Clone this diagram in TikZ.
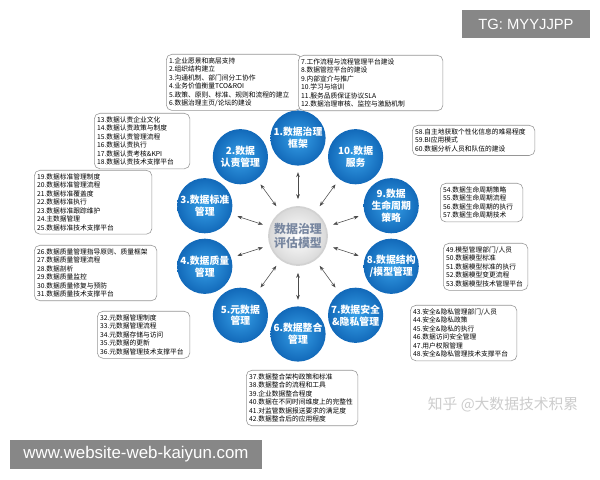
\documentclass[tikz,border=0pt]{standalone}
\usepackage{fontspec}
\setmainfont{Liberation Sans}
\newfontfamily\cjk{Noto Sans CJK SC}
\usetikzlibrary{arrows.meta, calc, positioning}
\definecolor{ballin}{RGB}{55,160,232}
\definecolor{ballout}{RGB}{18,105,185}
\definecolor{boxline}{RGB}{150,150,150}
\definecolor{hubtext}{RGB}{120,135,160}
\definecolor{markgrey}{RGB}{135,135,135}
\tikzset{
	>={Stealth[length=3.5pt,width=2.6pt]}, semithick,
	items/.style={draw=boxline, rounded corners=4pt, fill=white, anchor=north west,
		align=left, inner xsep=2pt, inner ysep=2.5pt, text=black,
		font=\cjk\fontsize{4.8}{6}\selectfont},
	ball/.style={circle, minimum size=1.38cm, inner sep=0pt, inner color=ballin,
		outer color=ballout, text=white, align=center,
		font=\cjk\bfseries\fontsize{7}{8.5}\selectfont}
}

\begin{document}
\begin{tikzpicture}[x=0.025cm, y=0.025cm]
	\tikzstyle{hub} = [circle, minimum size=1.45cm, inner sep=0pt, draw=gray!35, line width=1.2pt,
		inner color=white, outer color=gray!30, text=hubtext, align=center,
		font=\cjk\bfseries\fontsize{8.5}{10.5}\selectfont]
	\tikzstyle{link} = [<->, draw=black!70, thin, shorten <=5pt, shorten >=4.5pt]
	\tikzstyle{stamp} = [fill=markgrey, text=white, inner sep=0pt]
	\useasboundingbox (0,0) rectangle (600,480);

	\node [hub] (hub) at (298,244) {数据治理\\评估模型};
	\node [ball] (frame) at ($(hub)+(90:98)$) {1.数据治理\\框架};
	\node [ball] (duty) at ($(hub)+(126:98)$) {2.数据\\认责管理};
	\node [ball] (standard) at ($(hub)+(162:98)$) {3.数据标准\\管理};
	\node [ball] (quality) at ($(hub)+(198:98)$) {4.数据质量\\管理};
	\node [ball] (meta) at ($(hub)+(234:98)$) {5.元数据\\管理};
	\node [ball] (merge) at ($(hub)+(270:98)$) {6.数据整合\\管理};
	\node [ball] (safety) at ($(hub)+(306:98)$) {7.数据安全\\\&隐私管理};
	\node [ball] (model) at ($(hub)+(342:98)$) {8.数据结构\\/模型管理};
	\node [ball] (life) at ($(hub)+(18:98)$) {9.数据\\生命周期\\策略};
	\node [ball] (service) at ($(hub)+(54:98)$) {10.数据\\服务};

	\foreach \b in {frame, duty, standard, quality, meta, merge, safety, model, life, service}
		\draw [link] (hub) -- (\b);

	\node [items, text width=3.225cm] (vision) at (166,426) {1.企业愿景和高层支持\\2.组织结构建立\\3.沟通机制、部门间分工协作\\4.业务价值衡量TCO\&ROI\\5.政策、原则、标准、规则和流程的建立\\6.数据治理主页/论坛的建设};
	\node [items, text width=3.475cm] (flow) at (298,425) {7.工作流程与流程管理平台建设\\8.数据管控平台的建设\\9.内部宣介与推广\\10.学习与培训\\11.服务品质保证协议SLA\\12.数据治理审核、监控与激励机制};
	\node [items, text width=2.25cm] (dutylist) at (94,367) {13.数据认责企业文化\\14.数据认责政策与制度\\15.数据认责管理流程\\16.数据认责执行\\17.数据认责考核\&KPI\\18.数据认责技术支撑平台};
	\node [items, text width=2.8cm] (stdlist) at (34,310) {19.数据标准管理制度\\20.数据标准管理流程\\21.数据标准覆盖度\\22.数据标准执行\\23.数据标准跟踪维护\\24.主数据管理\\25.数据标准技术支撑平台};
	\node [items, text width=2.925cm] (qualist) at (34,235) {26.数据质量管理指导原则、质量框架\\27.数据质量管理流程\\28.数据剖析\\29.数据质量监控\\30.数据质量修复与预防\\31.数据质量技术支撑平台};
	\node [items, text width=2.175cm] (metalist) at (97,169) {32.元数据管理制度\\33.元数据管理流程\\34.元数据存储与访问\\35.元数据的更新\\36.元数据管理技术支撑平台};
	\node [items, text width=2.65cm] (mergelist) at (246,110) {37.数据整合架构政策和标准\\38.数据整合的流程和工具\\39.企业数据整合程度\\40.数据在不同时间维度上的完整性\\41.对监管数据报送要求的满足度\\42.数据整合后的应用程度};
	\node [items, text width=2.525cm] (safelist) at (410,175) {43.安全\&隐私管理部门/人员\\44.安全\&隐私政策\\45.安全\&隐私的执行\\46.数据访问安全管理\\47.用户权限管理\\48.安全\&隐私管理技术支撑平台};
	\node [items, text width=1.975cm] (modellist) at (443,237) {49.模型管理部门/人员\\50.数据模型标准\\51.数据模型标准的执行\\52.数据模型变更流程\\53.数据模型技术管理平台};
	\node [items, text width=1.925cm] (lifelist) at (440,297) {54.数据生命周期策略\\55.数据生命周期流程\\56.数据生命周期的执行\\57.数据生命周期技术};
	\node [items, text width=2.925cm] (servlist) at (412,355) {58.自主地获取个性化信息的难易程度\\59.BI应用模式\\60.数据分析人员和队伍的建设};

	\node [text=gray!40, font=\cjk\fontsize{10.5}{11}\selectfont] (zhihu) at (503,75) {知乎 @大数据技术积累};

	\node [stamp, minimum width=3.2cm, minimum height=0.7cm, font=\fontsize{10.5}{12}\selectfont] (tg) at (526,456) {TG: MYYJJPP};
	\node [stamp, minimum width=6.3cm, minimum height=0.725cm, font=\fontsize{12}{14}\selectfont] (site) at (136,25.5) {www.website-web-kaiyun.com};
\end{tikzpicture}
\end{document}
